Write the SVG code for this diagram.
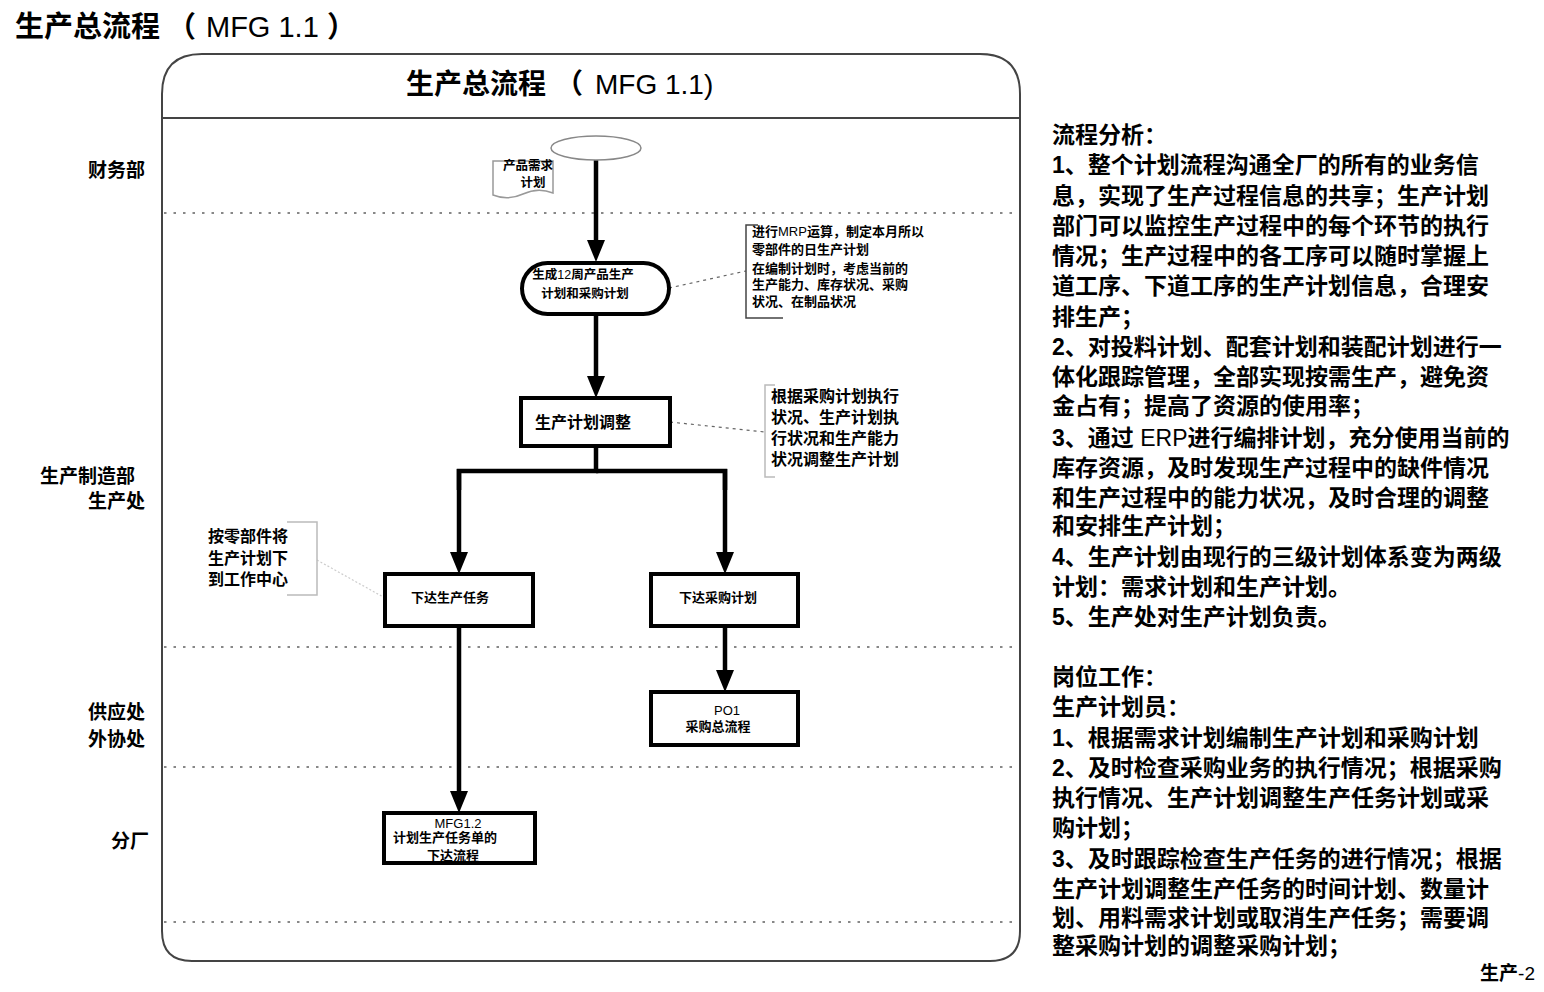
<svg xmlns="http://www.w3.org/2000/svg" width="1544" height="992" viewBox="0 0 1544 992">
<style>
.t{font-family:"Liberation Sans","Noto Sans CJK SC",sans-serif;font-weight:bold;fill:#000}
.n{font-weight:normal}
.lane{font-family:"Liberation Serif","Noto Sans CJK SC",serif;font-weight:bold;font-size:19px;text-anchor:end}
.dot{stroke:#888;stroke-width:2;stroke-dasharray:2.5 7;fill:none}
.box{fill:#fff;stroke:#000;stroke-width:4}
.arr{stroke:#000;stroke-width:4.5;fill:none;marker-end:url(#ah)}
.wire{stroke:#000;stroke-width:4.5;fill:none}
.ann{fill:none;stroke:#444;stroke-width:1.5}
.annl{fill:none;stroke:#bbb;stroke-width:1.5}
.lead{fill:none;stroke:#666;stroke-width:1.2;stroke-dasharray:3 4}
.b12{font-size:12.5px}
.b13{font-size:13px}
.b16{font-size:16px}
.rt{font-size:23px}
</style>
<defs>
<marker id="ah" markerUnits="userSpaceOnUse" markerWidth="22" markerHeight="18" refX="7" refY="9" orient="auto">
<path d="M0,0 L22,9 L0,18 Z" fill="#000"/>
</marker>
</defs>
<rect width="1544" height="992" fill="#fff"/>
<text class="t" y="37" font-size="29"><tspan x="15">生产总流程</tspan><tspan x="167">（</tspan><tspan class="n" x="206">MFG 1.1</tspan><tspan x="327">）</tspan></text>
<g id="frame">
<path d="M162,931 L162,94 Q162,54 202,54 L980,54 Q1020,54 1020,94 L1020,931 Q1020,961 990,961 L192,961 Q162,961 162,931 Z" fill="none" stroke="#444" stroke-width="2"/>
<line x1="162" y1="118" x2="1020" y2="118" stroke="#444" stroke-width="2"/>
<text class="t" y="94" font-size="28"><tspan x="406">生产总流程</tspan><tspan x="555">（</tspan><tspan class="n" x="595">MFG 1.1)</tspan></text>
</g>
<g id="lanes">
<line class="dot" x1="164" y1="213" x2="1018" y2="213"/>
<line class="dot" x1="164" y1="647" x2="1018" y2="647"/>
<line class="dot" x1="164" y1="767" x2="1018" y2="767"/>
<line class="dot" x1="164" y1="922" x2="1018" y2="922"/>
<text class="lane" x="145" y="177">财务部</text>
<text class="lane" x="135" y="483">生产制造部</text>
<text class="lane" x="145" y="508">生产处</text>
<text class="lane" x="145" y="719">供应处</text>
<text class="lane" x="145" y="746">外协处</text>
<text class="lane" x="149" y="848">分厂</text>
</g>
<g id="connectors">
<line class="arr" x1="596" y1="160" x2="596" y2="247"/>
<line class="arr" x1="596" y1="314" x2="596" y2="383"/>
<polyline class="wire" points="596,446 596,471 459,471 459,490"/>
<polyline class="wire" points="596,471 725,471 725,490"/>
<line class="arr" x1="459" y1="469" x2="459" y2="559"/>
<line class="arr" x1="725" y1="469" x2="725" y2="559"/>
<line class="arr" x1="459" y1="626" x2="459" y2="798"/>
<line class="arr" x1="725" y1="626" x2="725" y2="677"/>
<line class="lead" x1="669" y1="288" x2="746" y2="271"/>
<line class="lead" x1="670" y1="422" x2="765" y2="432"/>
<line x1="317" y1="560" x2="385" y2="598" stroke="#ccc" stroke-width="1.2" stroke-dasharray="2 2"/>
</g>
<g id="start">
<ellipse cx="596" cy="148" rx="45" ry="12" fill="#fff" stroke="#888" stroke-width="1.5"/>
</g>
<g id="demand-doc">
<path d="M493,161 L553,161 L553,193 Q538,187 523,194 Q508,201 493,195 Z" fill="#fff" stroke="#999" stroke-width="1.5"/>
<text class="t b12" x="528" y="170" text-anchor="middle">产品需求</text>
<text class="t b12" x="533" y="187" text-anchor="middle">计划</text>
</g>
<g id="gen-plan">
<rect class="box" x="522" y="263" width="147" height="51" rx="25.5"/>
<text class="t b12" x="583" y="279" text-anchor="middle">生成<tspan class="n">12</tspan>周产品生产</text>
<text class="t b12" x="585" y="298" text-anchor="middle">计划和采购计划</text>
</g>
<g id="note-mrp">
<polyline class="ann" points="758,225 746,225 746,318 783,318"/>
<text class="t b13" x="752" y="236">进行<tspan class="n">MRP</tspan>运算，制定本月所以</text>
<text class="t b13" x="752" y="254">零部件的日生产计划</text>
<text class="t b13" x="752" y="273">在编制计划时，考虑当前的</text>
<text class="t b13" x="752" y="289">生产能力、库存状况、采购</text>
<text class="t b13" x="752" y="306">状况、在制品状况</text>
</g>
<g id="adjust">
<rect class="box" x="521" y="398" width="149" height="48"/>
<text class="t b16" x="535" y="428">生产计划调整</text>
</g>
<g id="note-adjust">
<polyline class="annl" points="775,385 765,385 765,477 775,477"/>
<text class="t b16" x="771" y="402">根据采购计划执行</text>
<text class="t b16" x="771" y="423">状况、生产计划执</text>
<text class="t b16" x="771" y="444">行状况和生产能力</text>
<text class="t b16" x="771" y="465">状况调整生产计划</text>
</g>
<g id="note-task">
<polyline class="annl" points="287,522 317,522 317,595 287,595"/>
<text class="t b16" x="208" y="542">按零部件将</text>
<text class="t b16" x="208" y="564">生产计划下</text>
<text class="t b16" x="208" y="585">到工作中心</text>
</g>
<g id="issue-task">
<rect class="box" x="385" y="574" width="148" height="52"/>
<text class="t b13" x="450" y="602" text-anchor="middle">下达生产任务</text>
</g>
<g id="issue-purchase">
<rect class="box" x="651" y="574" width="147" height="52"/>
<text class="t b13" x="718" y="602" text-anchor="middle">下达采购计划</text>
</g>
<g id="po1">
<rect class="box" x="651" y="692" width="147" height="53"/>
<text class="t b13 n" x="727" y="715" text-anchor="middle">PO1</text>
<text class="t b13" x="718" y="731" text-anchor="middle">采购总流程</text>
</g>
<g id="mfg12">
<rect class="box" x="384" y="813" width="151" height="50"/>
<text class="t b13 n" x="458" y="828" text-anchor="middle">MFG1.2</text>
<text class="t b13" x="393" y="842">计划生产任务单的</text>
<text class="t b13" x="453" y="860" text-anchor="middle">下达流程</text>
</g>
<g id="analysis">
<text class="t rt" x="1052" y="143">流程分析：</text>
<text class="t rt" x="1052" y="173">1、整个计划流程沟通全厂的所有的业务信</text>
<text class="t rt" x="1052" y="204">息，实现了生产过程信息的共享；生产计划</text>
<text class="t rt" x="1052" y="234">部门可以监控生产过程中的每个环节的执行</text>
<text class="t rt" x="1052" y="264">情况；生产过程中的各工序可以随时掌握上</text>
<text class="t rt" x="1052" y="294">道工序、下道工序的生产计划信息，合理安</text>
<text class="t rt" x="1052" y="325">排生产；</text>
<text class="t rt" x="1052" y="355">2、对投料计划、配套计划和装配计划进行一</text>
<text class="t rt" x="1052" y="385">体化跟踪管理，全部实现按需生产，避免资</text>
<text class="t rt" x="1052" y="414">金占有；提高了资源的使用率；</text>
<text class="t rt" x="1052" y="446">3、通过 <tspan class="n">ERP</tspan>进行编排计划，充分使用当前的</text>
<text class="t rt" x="1052" y="476">库存资源，及时发现生产过程中的缺件情况</text>
<text class="t rt" x="1052" y="506">和生产过程中的能力状况，及时合理的调整</text>
<text class="t rt" x="1052" y="534">和安排生产计划；</text>
<text class="t rt" x="1052" y="565">4、生产计划由现行的三级计划体系变为两级</text>
<text class="t rt" x="1052" y="595">计划：需求计划和生产计划。</text>
<text class="t rt" x="1052" y="625">5、生产处对生产计划负责。</text>
<text class="t rt" x="1052" y="685">岗位工作：</text>
<text class="t rt" x="1052" y="715">生产计划员：</text>
<text class="t rt" x="1052" y="746">1、根据需求计划编制生产计划和采购计划</text>
<text class="t rt" x="1052" y="776">2、及时检查采购业务的执行情况；根据采购</text>
<text class="t rt" x="1052" y="806">执行情况、生产计划调整生产任务计划或采</text>
<text class="t rt" x="1052" y="836">购计划；</text>
<text class="t rt" x="1052" y="867">3、及时跟踪检查生产任务的进行情况；根据</text>
<text class="t rt" x="1052" y="897">生产计划调整生产任务的时间计划、数量计</text>
<text class="t rt" x="1052" y="926">划、用料需求计划或取消生产任务；需要调</text>
<text class="t rt" x="1052" y="954">整采购计划的调整采购计划；</text>
<text class="t" x="1535" y="980" font-size="19" text-anchor="end">生产<tspan class="n">-2</tspan></text>
</g>
</svg>
